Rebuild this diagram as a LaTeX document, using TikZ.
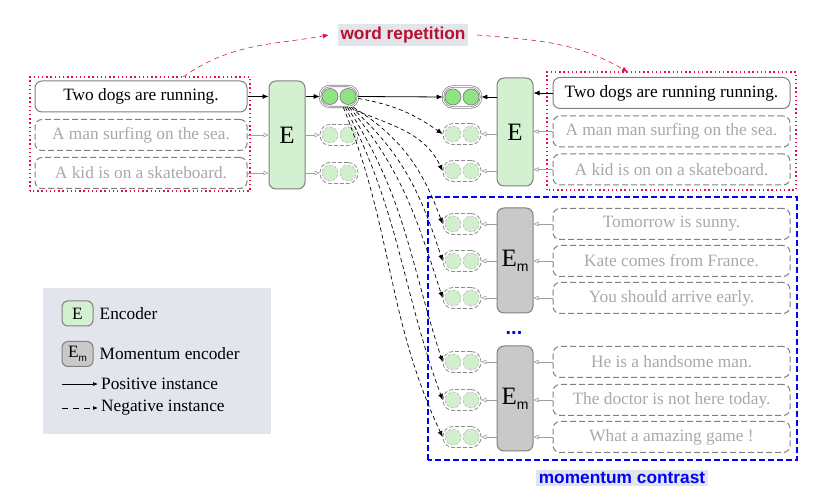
\documentclass[tikz,border=0pt]{standalone}
\usepackage{fontspec}
\setmainfont{Liberation Serif}
\newfontfamily\labelfont{Liberation Sans}
\usetikzlibrary{arrows.meta,positioning}
\definecolor{encgreen}{HTML}{D3F1D0}
\definecolor{embgreen}{HTML}{8FE383}
\definecolor{embfaint}{HTML}{D2EFCD}
\definecolor{momgray}{HTML}{C9C9C9}
\definecolor{legendbg}{HTML}{E2E5EC}
\definecolor{repred}{HTML}{B8102E}
\definecolor{repdot}{HTML}{E0143F}
\definecolor{txtgray}{HTML}{A8A8A8}
\newcommand{\msub}{\raisebox{-5pt}{\labelfont\fontsize{14}{14}\selectfont m}}
\tikzset{
  sent/.style={draw=gray, line width=1pt, rounded corners=7pt, minimum width=212pt, minimum height=31pt, inner sep=0pt},
  negsent/.style={sent, dash pattern=on 6pt off 3pt, text=txtgray},
  enc/.style={draw=gray, line width=1pt, fill=encgreen, rounded corners=7pt, minimum width=36pt, minimum height=108pt, inner sep=0pt, font=\fontsize{25}{25}\selectfont},
  menc/.style={enc, fill=momgray, minimum height=105pt},
  pill/.style={draw=gray, line width=0.7pt, double=white, double distance=0.9pt, rounded corners=10pt, minimum width=38pt, minimum height=21pt, inner sep=0pt},
  negpill/.style={draw=gray!90, line width=0.8pt, dash pattern=on 4pt off 2pt, rounded corners=10pt, minimum width=38pt, minimum height=21pt, inner sep=0pt},
  dotfull/.style={circle, draw=gray, line width=0.7pt, fill=embgreen, minimum size=16pt, inner sep=0pt},
  dotfaint/.style={circle, draw=gray!60, line width=0.5pt, dash pattern=on 3pt off 2pt, fill=embfaint, minimum size=16pt, inner sep=0pt},
  posarrow/.style={line width=0.8pt, -{Latex[length=6pt,width=5pt]}},
  negarrow/.style={gray!75, line width=0.6pt, -{Triangle[open,length=5pt,width=4.5pt]}},
  fararrow/.style={line width=0.7pt, dash pattern=on 4pt off 3pt, -{Latex[length=6pt,width=5pt]}},
  repbox/.style={repdot, line width=1.4pt, dash pattern=on 1.4pt off 2.8pt},
  tag/.style={fill=legendbg, font=\labelfont\bfseries\fontsize{17.3}{20}\selectfont, inner sep=2.5pt}
}
\begin{document}
\begin{tikzpicture}[x=1pt,y=1pt,font=\fontsize{17.3}{20}\selectfont]
  \useasboundingbox (0,0) rectangle (826,500);
  % left branch
  \node[sent] (ls1) at (141,403.5) {Two dogs are running.};
  \node[negsent] (ls2) at (141,365) {A man surfing on the sea.};
  \node[negsent] (ls3) at (141,327) {A kid is on a skateboard.};
  \node[enc] (le) at (287,365) {E};
  \node[pill] (lp1) at (339,403.5) {};
  \node[negpill] (lp2) at (339,365) {};
  \node[negpill] (lp3) at (339,327) {};
  \draw[repbox] (30,309) rectangle (250,423);
  \draw[posarrow] (ls1.east) -- (le.west |- ls1.east);
  \draw[posarrow] (le.east |- lp1.west) -- (lp1.west);
  \foreach \i in {2,3}{%
    \draw[negarrow] (ls\i.east) -- (le.west |- ls\i.east);
    \draw[negarrow] (le.east |- lp\i.west) -- (lp\i.west);
  }
  % right branch
  \node[sent, minimum width=237pt] (rs1) at (671.5,407) {Two dogs are running running.};
  \node[negsent, minimum width=237pt] (rs2) at (671.5,368.5) {A man man surfing on the sea.};
  \node[negsent, minimum width=237pt] (rs3) at (671.5,330.5) {A kid is on on a skateboard.};
  \node[enc] (re) at (515,368) {E};
  \node[pill] (rp1) at (462,403) {};
  \node[negpill] (rp2) at (462,366) {};
  \node[negpill] (rp3) at (462,329) {};
  \draw[repbox] (547,310) rectangle (796,428);
  \draw[posarrow] (rs1.west) -- (re.east |- rs1.west);
  \draw[posarrow] (re.west |- rp1.east) -- (rp1.east);
  \foreach \i in {2,3}{%
    \draw[negarrow] (rs\i.west) -- (re.east |- rs\i.west);
    \draw[negarrow] (re.west |- rp\i.east) -- (rp\i.east);
  }
  % momentum branch
  \draw[blue, dash pattern=on 6pt off 3pt, line width=1.2pt] (428,40) rectangle (797,303);
  \node[menc] (me1) at (515,239.5) {E\msub};
  \node[menc] (me2) at (515,101.5) {E\msub};
  \node[text=blue, font=\labelfont\bfseries\fontsize{20}{20}\selectfont] (dots) at (514,167) {...};
  \foreach \n/\y/\e/\txt in {1/276/me1/Tomorrow is sunny., 2/239/me1/Kate comes from France.,
      3/202/me1/You should arrive early., 4/138/me2/He is a handsome man.,
      5/100/me2/The doctor is not here today., 6/63/me2/What a amazing game !}{%
    \node[negsent, minimum width=237pt] (ms\n) at (671.5,\y) {\txt};
    \node[negpill] (mp\n) at (462,\y) {};
    \draw[negarrow] (ms\n.west) -- (\e.east |- ms\n.west);
    \draw[negarrow] (\e.west |- mp\n.east) -- (mp\n.east);
  }
  % embeddings
  \foreach \p in {lp1,rp1}{%
    \node[dotfull] (\p-a) at ([xshift=-9pt]\p.center) {};
    \node[dotfull] (\p-b) at ([xshift=9pt]\p.center) {};
  }
  \foreach \p in {lp2,lp3,rp2,rp3,mp1,mp2,mp3,mp4,mp5,mp6}{%
    \node[dotfaint] (\p-a) at ([xshift=-9pt]\p.center) {};
    \node[dotfaint] (\p-b) at ([xshift=9pt]\p.center) {};
  }
  % positive and negatives
  \draw[posarrow] (lp1.east) -- (rp1.west);
  \draw[fararrow] ([yshift=-2pt]lp1.east) to[out=-10,in=145] (rp2.west);
  \draw[fararrow] ([xshift=-3pt,yshift=-3pt]lp1.south east) to[out=-22,in=115] (rp3.west);
  \foreach \n/\s/\o/\i in {1/5/-32/110, 2/7/-42/108, 3/9/-50/108, 4/11/-57/108, 5/13/-63/110, 6/15/-68/115}{%
    \draw[fararrow] ([xshift=-\s pt]lp1.south east) to[out=\o,in=\i] (mp\n.west);
  }
  % word repetition
  \node[tag, text=repred] (wr) at (403,465) {word repetition};
  \coordinate (wrin) at (183,423);
  \coordinate (wrout) at (628,428);
  \draw[repdot, dash pattern=on 5pt off 4pt, line width=0.6pt, -{Latex[length=6pt,width=5pt]}] (wrin) to[out=35,in=190] ([xshift=-9pt]wr.west);
  \draw[repdot, dash pattern=on 5pt off 4pt, line width=0.6pt, -{Latex[length=6pt,width=5pt]}] ([xshift=9pt]wr.east) to[out=-5,in=150] (wrout);
  \node[tag, text=blue] (mc) at (622,22) {momentum contrast};
  % legend
  \node[fill=legendbg, minimum width=228pt, minimum height=146pt, inner sep=0pt] (legend) at (157,139) {};
  \node[enc, minimum width=31pt, minimum height=25pt, rounded corners=6pt, font=\fontsize{17.3}{20}\selectfont] (le-e) at (77.5,186.5) {E};
  \node[right=6pt of le-e, inner sep=0pt] (le-et) {Encoder};
  \node[menc, minimum width=31pt, minimum height=25pt, rounded corners=6pt, font=\fontsize{17.3}{20}\selectfont] (le-m) at (77.5,146) {E{\raisebox{-4pt}{\labelfont\fontsize{10}{10}\selectfont m}}};
  \node[right=6pt of le-m, inner sep=0pt] (le-mt) {Momentum encoder};
  \coordinate (pa) at (62,116);
  \node[anchor=west, inner sep=0pt] (le-pt) at (101,116) {Positive instance};
  \coordinate (na) at (62,92);
  \node[anchor=west, inner sep=0pt] (le-nt) at (101,92) {Negative instance};
  \draw[line width=0.7pt, -{Latex[length=5pt,width=4pt]}] (pa) -- ([xshift=-3pt]le-pt.west);
  \draw[line width=0.7pt, dash pattern=on 6pt off 5pt, -{Latex[length=5pt,width=4pt]}] (na) -- ([xshift=-3pt]le-nt.west);
\end{tikzpicture}
\end{document}
